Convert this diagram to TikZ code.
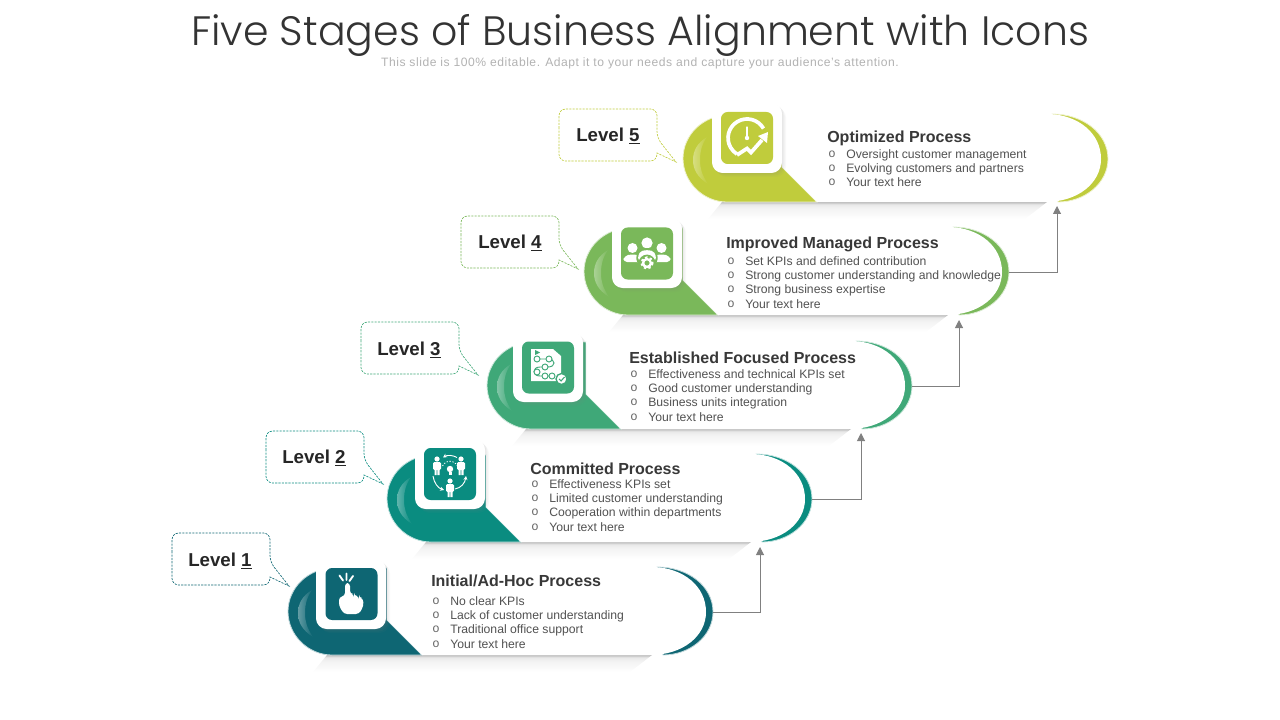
\documentclass[tikz,border=0pt]{standalone}
\usepackage{fontspec}
\setmainfont{Liberation Sans}
\setmonofont{Liberation Mono}
\newfontfamily\titlefont{Poppins Light}
\usepackage{xcolor}
\usepackage{tikz}
\usetikzlibrary{positioning, calc, arrows.meta, shadows}

\definecolor{stageA}{HTML}{0E6673}
\definecolor{stageB}{HTML}{0A8C80}
\definecolor{stageC}{HTML}{3FA878}
\definecolor{stageD}{HTML}{7AB85A}
\definecolor{stageE}{HTML}{C0CC3C}

\pgfdeclareverticalshading{barshadow}{100bp}{
  color(0bp)=(white); color(25bp)=(white); color(58bp)=(black!5); color(68bp)=(black!9); color(74bp)=(black!24); color(75bp)=(black!24); color(100bp)=(black!24)}

\tikzset{
  iconbox/.style={fill=white, rounded corners=8pt, minimum size=52.5pt, inner sep=0pt,
    drop shadow={shadow xshift=1pt, shadow yshift=-1pt, opacity=0.09},
    drop shadow={shadow xshift=2pt, shadow yshift=-2pt, opacity=0.07},
    drop shadow={shadow xshift=3pt, shadow yshift=-3pt, opacity=0.05}},
  iconface/.style={rounded corners=5pt, minimum size=39pt, inner sep=0pt},
  stagehead/.style={anchor=west, inner sep=0pt, text height=9pt, text depth=1pt, font=\fontsize{12}{14}\selectfont\bfseries, text=black!78},
  itemtext/.style={anchor=west, inner sep=0pt, text height=7pt, text depth=0.5pt, font=\fontsize{9.15}{11}\selectfont, text=black!68,
    label={[label distance=7.6pt, inner sep=0pt, text=black!60, font=\fontsize{9.15}{11}\selectfont\ttfamily]180:o}},
  leveltext/.style={anchor=west, inner sep=0pt, text height=11pt, text depth=1pt, font=\fontsize{14}{16}\selectfont\bfseries, text=black!85},
  riser/.style={draw=black!50, line width=0.75pt, -{Triangle[width=6pt,length=6pt]}},
  whiteline/.style={draw=white, line cap=round, line join=round}
}

% bar of one stage: top left corner, colour, id
\newcommand{\stagebar}[3]{
\begin{scope}[shift={(#1)}]
%Shape: shadow under the bar
\shade [shading=barshadow, draw=none] (39,87) -- (364,87) -- (342,104) -- (25,104) -- cycle ;
%Shape: right crescent
\draw [fill=#2, draw=#2!25, line width=0.6pt] (369,-1) .. controls (400,-1) and (425,18) .. (425,44) .. controls (425,68) and (402,87) .. (375,87) -- cycle ;
%Shape: left end
\draw [fill=#2, draw=#2!25, line width=0.6pt] (46,0) .. controls (20,0) and (0,20) .. (0,43.5) .. controls (0,67) and (20,87) .. (44,87) -- (134,87) -- (99,52) -- (99,0) -- cycle ;
%Shape: white body
\fill [white] (134,87) -- (99,52) -- (99,0) -- (366,-1) .. controls (395,0) and (418,18) .. (418,44) .. controls (418,68) and (395,87) .. (362,87) -- cycle ;
%Shape: gloss
\shade [left color=#2!65!white, right color=#2, draw=none] (24,22) .. controls (14,28) and (10,36) .. (10,45) .. controls (10,54) and (14,62) .. (25,69) .. controls (19,60) and (17,54) .. (17,45) .. controls (17,36) and (19,29) .. (24,22) ;
\coordinate (barend#3) at (425,44) ;
\end{scope}
}

% dashed callout: top left corner, colour
\newcommand{\levelcallout}[2]{
\draw [shift={(#1)}, fill=white, draw=#2, line width=0.5pt, dash pattern=on 1.6pt off 0.9pt, rounded corners=5pt] (0,26) -- (0,0) -- (98,0) -- (98,29) [sharp corners] -- (117,53) -- (98,44) [rounded corners=5pt] -- (98,52) -- (0,52) -- cycle ;
}

\begin{document}
\begin{tikzpicture}[x=0.75pt,y=0.75pt,yscale=-1,xscale=1]
\useasboundingbox (0,0) rectangle (1280,720);

% Text Node
\node (title) at (640,35) [inner sep=0pt, text=black!80] {\titlefont\fontsize{30.8}{36}\selectfont Five Stages of Business Alignment with Icons};
% Text Node
\node (subtitle) at (640,63) [inner sep=0pt, text=black!30] {\addfontfeatures{LetterSpace=4.3}\fontsize{9.1}{11}\selectfont This slide is 100\% editable. Adapt it to your needs and capture your audience's attention.};

\stagebar{683,115}{stageE}{E}
\stagebar{584,228}{stageD}{D}
\stagebar{487,342}{stageC}{C}
\stagebar{387,455}{stageB}{B}
\stagebar{288,568}{stageA}{A}

\levelcallout{559,109}{stageE}
\levelcallout{461,216}{stageD}
\levelcallout{361,322}{stageC}
\levelcallout{266,431}{stageB}
\levelcallout{172,533}{stageA}

% Text Node
\node [leveltext] (levelE) at (576,135) {Level \underline{5}};
\node [leveltext] (levelD) at (478,242) {Level \underline{4}};
\node [leveltext] (levelC) at (377,349) {Level \underline{3}};
\node [leveltext] (levelB) at (282,457) {Level \underline{2}};
\node [leveltext] (levelA) at (188,560) {Level \underline{1}};

%Shape: icon boxes
\node [iconbox] (boxE) at (747,138) {};
\node [iconface, fill=stageE] (faceE) at (747,138) {};
\node [iconbox] (boxD) at (647,253) {};
\node [iconface, fill=stageD] (faceD) at (647,253.5) {};
\node [iconbox] (boxC) at (548,367) {};
\node [iconface, fill=stageC] (faceC) at (548,367.5) {};
\node [iconbox] (boxB) at (450,474) {};
\node [iconface, fill=stageB] (faceB) at (450,474) {};
\node [iconbox] (boxA) at (351,594) {};
\node [iconface, fill=stageA] (faceA) at (351.5,594) {};

%Icon: gauge with rising arrow
\draw [whiteline, line width=2.8pt, line cap=butt] (763.5,128.5) arc[start angle=-30, end angle=-238, radius=19] ;
\draw [whiteline, line width=0.8pt] (747,127) -- (747,138) ;
\fill [white] (747,138) circle (2.2) ;
\draw [whiteline, line width=2.8pt, line cap=butt, line join=miter] (737,155) -- (747,148.5) -- (751,152.5) -- (762,140) ;
\fill [white] (758,136) -- (768,132) -- (767,143) -- cycle ;

%Icon: three persons and a gear
\fill [white] (632.5,248) circle (5) (661.5,248) circle (5) ;
\fill [white, rounded corners=3pt] (623,262) -- (624,256) -- (632,254) -- (642,256) -- (642,262) -- cycle ;
\fill [white, rounded corners=3pt] (671,262) -- (670,256) -- (662,254) -- (652,256) -- (652,262) -- cycle ;
\fill [stageD] (647,243) circle (7.4) ;
\fill [white] (647,243) circle (5.6) ;
\fill [stageD, rounded corners=3pt] (636,263) -- (637,250) -- (647,247.5) -- (657,250) -- (658,263) -- cycle ;
\fill [white, rounded corners=3pt] (638,262) -- (638.5,252) -- (647,249.5) -- (655.5,252) -- (656,262) -- cycle ;
\fill [stageD] (647,263) circle (8.4) ;
\draw [white, line width=1.7pt] (647,263) circle (3.9) ;
\draw [white, line width=1.6pt, dash pattern=on 1.8pt off 1.75pt] (647,263) circle (5.6) ;

%Icon: process sheet
\fill [white] (531,349) -- (553,349) -- (561,356) -- (561,381) -- (531,381) -- cycle ;
\draw [stageC, line width=0.7pt] (537,359) -- (548,359) .. controls (556,359) and (556,367) .. (548,367) -- (540,367) .. controls (532,367) and (532,376) .. (540,376) -- (553,376) ;
\foreach \cx/\cy in {537/359, 549/359, 545/367, 537/372, 545/376, 552/376}
  \draw [stageC, fill=white, line width=0.7pt] (\cx,\cy) circle (3) ;
\fill [stageC] (535,350) -- (540,352.5) -- (535,355) -- cycle ;
\draw [stageC, fill=white, line width=1pt] (561.5,379) circle (5.5) ;
\draw [stageC, line width=0.8pt] (559,379) -- (561,381) -- (564.5,377) ;

%Icon: team around a bulb
\foreach \px/\py in {437/459, 461/459, 450/481}{
  \fill [white] (\px,\py) circle (2.6) ;
  \fill [white, rounded corners=1pt] (\px-4,\py+3) rectangle (\px+4,\py+11) ;
  \fill [white] (\px-2.5,\py+10) rectangle (\px-0.4,\py+16) (\px+0.4,\py+10) rectangle (\px+2.5,\py+16) ;
}
\fill [white] (450,469) circle (3.2) ;
\fill [white] (448.5,472) rectangle (451.5,475) ;
\draw [white, line width=0.6pt, dash pattern=on 1pt off 1.2pt] (442.5,466) arc[start angle=-155, end angle=-25, radius=8.2] ;
\draw [white, line width=0.7pt, -{Stealth[length=3pt,width=3pt]}] (457,457.5) .. controls (453,455) and (447,455) .. (443,457.5) ;
\draw [white, line width=0.7pt, -{Stealth[length=3pt,width=3pt]}] (433,476) .. controls (434,483) and (438,488) .. (444,490) ;
\draw [white, line width=0.7pt, -{Stealth[length=3pt,width=3pt]}] (455,489) .. controls (461,488) and (465,483) .. (466,476) ;

%Icon: pointing hand
\draw [whiteline, line width=1.4pt] (339.5,575.5) -- (343,580.5) (346.5,573.5) -- (346.5,580) (353,576) -- (349.5,581) ;
\fill [white, rounded corners=2.4pt] (345,583) -- (350,583) -- (350,594) -- (354,594) -- (354,596) -- (359,596) -- (359,598) -- (363,598) -- (363.5,606) -- (359,614) -- (344,614) -- (339,606) -- (339,597) -- (345,596) -- cycle ;

%Straight Lines
\coordinate (tipE) at (1057,206) ;
\coordinate (tipD) at (959,320) ;
\coordinate (tipC) at (861,433) ;
\coordinate (tipB) at (760,547) ;
\draw [riser] (barendD) -| (tipE) ;
\draw [riser] (barendC) -| (tipD) ;
\draw [riser] (barendB) -| (tipC) ;
\draw [riser] (barendA) -| (tipB) ;

% Text Node
\node [stagehead] (headE) at (827,137) {Optimized Process};
\node [itemtext] (itemEa) at (846,154) {Oversight customer management};
\node [itemtext] (itemEb) at (846,168) {Evolving customers and partners};
\node [itemtext] (itemEc) at (846,182) {Your text here};
% Text Node
\node [stagehead] (headD) at (726,243) {Improved Managed Process};
\node [itemtext] (itemDa) at (745,261) {Set KPIs and defined contribution};
\node [itemtext] (itemDb) at (745,275) {Strong customer understanding and knowledge};
\node [itemtext] (itemDc) at (745,289) {Strong business expertise};
\node [itemtext] (itemDd) at (745,304) {Your text here};
% Text Node
\node [stagehead] (headC) at (629,358) {Established Focused Process};
\node [itemtext] (itemCa) at (648,374) {Effectiveness and technical KPIs set};
\node [itemtext] (itemCb) at (648,388) {Good customer understanding};
\node [itemtext] (itemCc) at (648,402) {Business units integration};
\node [itemtext] (itemCd) at (648,417) {Your text here};
% Text Node
\node [stagehead] (headB) at (530,469) {Committed Process};
\node [itemtext] (itemBa) at (549,484) {Effectiveness KPIs set};
\node [itemtext] (itemBb) at (549,498) {Limited customer understanding};
\node [itemtext] (itemBc) at (549,512) {Cooperation within departments};
\node [itemtext] (itemBd) at (549,527) {Your text here};
% Text Node
\node [stagehead] (headA) at (431,581) {Initial/Ad-Hoc Process};
\node [itemtext] (itemAa) at (450,601) {No clear KPIs};
\node [itemtext] (itemAb) at (450,615) {Lack of customer understanding};
\node [itemtext] (itemAc) at (450,629) {Traditional office support};
\node [itemtext] (itemAd) at (450,644) {Your text here};

\end{tikzpicture}
\end{document}
